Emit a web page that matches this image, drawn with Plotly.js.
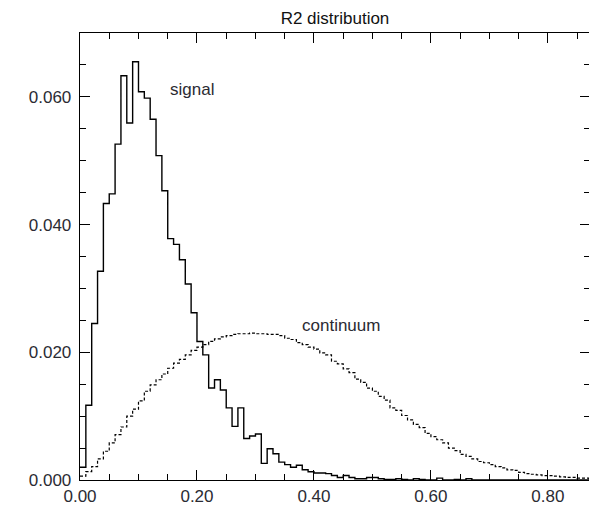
<!DOCTYPE html>
<html>
<head>
<meta charset="utf-8">
<script src="https://cdn.plot.ly/plotly-3.0.1.min.js"></script>
<style>
html, body { margin: 0; padding: 0; overflow: hidden; background: #fff; }
#chart { width: 592px; height: 506px; }
</style>
</head>
<body>
<div id="chart"></div>
<script>
// Histogram bin width (R2 units)
const binWidth = 0.01;

// Signal histogram contents, one value per bin starting at R2 = 0
const signalValues = [
  0.0020, 0.0117, 0.0245, 0.0327, 0.0433, 0.0448, 0.0526, 0.0633, 0.0559, 0.0655,
  0.0608, 0.0598, 0.0565, 0.0508, 0.0453, 0.0378, 0.0369, 0.0345, 0.0307, 0.0262,
  0.0217, 0.0196, 0.0144, 0.0157, 0.0141, 0.0113, 0.0084, 0.0113, 0.0065, 0.0069,
  0.0072, 0.0026, 0.0049, 0.0041, 0.0028, 0.0024, 0.0020, 0.0023, 0.0016, 0.0013,
  0.0011, 0.0011, 0.0010, 0.0007, 0.0004, 0.0007, 0.0004, 0.0002, 0.0002, 0.0004,
  0.0004, 0.0002, 0.0001, 0.0001, 0.0002, 0.0001, 0.0000, 0.0002, 0.0001, 0.0000,
  0.0000, 0.0003, 0.0000, 0.0000, 0.0001, 0.0000, 0.0002, 0.0000, 0.0000, 0.0000,
  0.0000, 0.0000, 0.0000, 0.0000, 0.0000, 0.0000, 0.0000, 0.0000, 0.0000, 0.0000,
  0.0000, 0.0000, 0.0000, 0.0000, 0.0000, 0.0000, 0.0000, 0.0000, 0.0000, 0.0000
];

// Continuum histogram contents, one value per bin starting at R2 = 0
const continuumValues = [
  0.0006, 0.0013, 0.0021, 0.0033, 0.0045, 0.0058, 0.0071, 0.0083, 0.0100, 0.0111,
  0.0124, 0.0139, 0.0149, 0.0157, 0.0166, 0.0175, 0.0183, 0.0189, 0.0196, 0.0203,
  0.0208, 0.0212, 0.0217, 0.0221, 0.0224, 0.0226, 0.0228, 0.0229, 0.0229, 0.0230,
  0.0229, 0.0229, 0.0228, 0.0228, 0.0226, 0.0222, 0.0220, 0.0215, 0.0212, 0.0208,
  0.0205, 0.0199, 0.0196, 0.0186, 0.0182, 0.0174, 0.0168, 0.0158, 0.0153, 0.0144,
  0.0139, 0.0131, 0.0125, 0.0113, 0.0109, 0.0101, 0.0094, 0.0087, 0.0082, 0.0073,
  0.0068, 0.0063, 0.0058, 0.0050, 0.0046, 0.0040, 0.0037, 0.0033, 0.0029, 0.0027,
  0.0024, 0.0021, 0.0019, 0.0016, 0.0015, 0.0012, 0.0010, 0.0009, 0.0008, 0.0007,
  0.0007, 0.0006, 0.0005, 0.0004, 0.0004, 0.0003, 0.0003, 0.0002, 0.0002, 0.0001
];

// Labels
const chartTitle = "R2 distribution";
const signalLabel = "signal";
const continuumLabel = "continuum";
const signalLabelPos = [0.150, 0.0611];
const continuumLabelPos = [0.377, 0.0242];

// Build step (histogram) outlines: left edges + closing right edge
function stepXY(values) {
  const xs = [], ys = [];
  for (let i = 0; i < values.length; i++) {
    xs.push(+(i * binWidth).toFixed(4));
    ys.push(values[i]);
  }
  xs.push(+(values.length * binWidth).toFixed(4));
  ys.push(values[values.length - 1]);
  return { xs, ys };
}

const sig = stepXY(signalValues);
const con = stepXY(continuumValues);

const FONT = "Liberation Sans, Arial, sans-serif";
const TXT = "#2b2b33";

const traces = [
  {
    x: con.xs, y: con.ys, type: "scatter", mode: "lines",
    line: { shape: "hv", color: "#000", width: 1.2, dash: "3px,2px" },
    hoverinfo: "skip", showlegend: false
  },
  {
    x: sig.xs, y: sig.ys, type: "scatter", mode: "lines",
    line: { shape: "hv", color: "#000", width: 1.4 },
    hoverinfo: "skip", showlegend: false
  }
];

const axisCommon = {
  showgrid: false, zeroline: false, showline: true, linecolor: "#000", linewidth: 1.3,
  mirror: "ticks", ticks: "inside", ticklen: 10, tickwidth: 1, tickcolor: "#000",
  tickfont: { family: FONT, size: 17, color: TXT }
};

const layout = {
  width: 592, height: 506,
  margin: { l: 80, r: 2, t: 33, b: 26 },
  paper_bgcolor: "#fff", plot_bgcolor: "#fff",
  title: {
    text: chartTitle, font: { family: FONT, size: 17, color: "#111" },
    x: 0.5, xref: "paper", xanchor: "center", y: 1, yref: "paper", yanchor: "bottom",
    pad: { b: 9 }
  },
  xaxis: Object.assign({}, axisCommon, {
    range: [0, 0.872], tick0: 0, dtick: 0.2, tickformat: ".2f",
    minor: { dtick: 0.05, ticks: "inside", ticklen: 6, tickcolor: "#000", tickwidth: 1 }
  }),
  yaxis: Object.assign({}, axisCommon, {
    range: [0, 0.070], tick0: 0, dtick: 0.02, tickformat: ".3f",
    ticklabelstandoff: 4,
    minor: { dtick: 0.005, ticks: "inside", ticklen: 6, tickcolor: "#000", tickwidth: 1 }
  }),
  annotations: [
    { x: signalLabelPos[0], y: signalLabelPos[1], xref: "x", yref: "y", text: signalLabel,
      showarrow: false, xanchor: "left", yanchor: "middle",
      font: { family: FONT, size: 17, color: TXT } },
    { x: continuumLabelPos[0], y: continuumLabelPos[1], xref: "x", yref: "y", text: continuumLabel,
      showarrow: false, xanchor: "left", yanchor: "middle",
      font: { family: FONT, size: 17, color: TXT } }
  ]
};

Plotly.newPlot("chart", traces, layout, { displayModeBar: false, staticPlot: true });
</script>
</body>
</html>
